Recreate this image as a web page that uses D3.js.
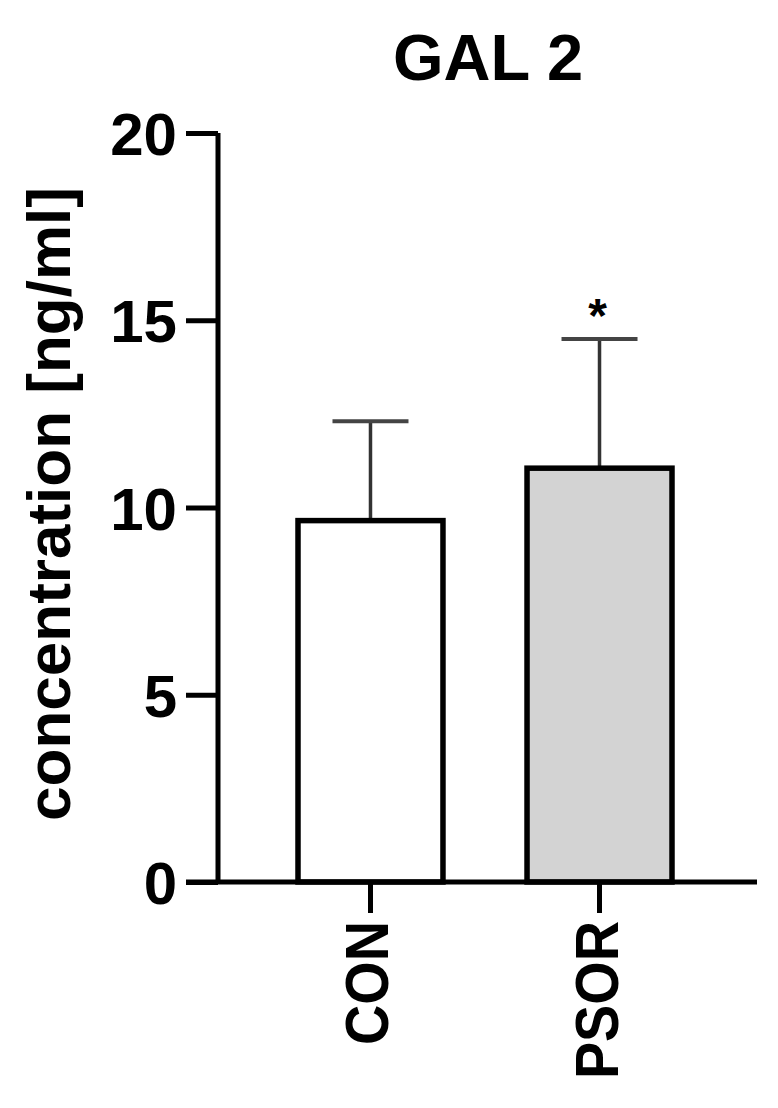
<!DOCTYPE html>
<html>
<head>
<meta charset="utf-8">
<script src="https://cdn.jsdelivr.net/npm/d3@7"></script>
<style>
  body { margin: 0; background: #fff; }
  text { font-family: 'Liberation Sans', Arial, sans-serif; font-weight: bold; fill: #000; }
</style>
</head>
<body>
<svg id="chart"></svg>
<script>
var groups = ['CON', 'PSOR'];
var means = [9.65, 11.05];
var sds = [2.65, 3.45];
var barFills = ['#ffffff', '#d3d3d3'];
var yTicks = [0, 5, 10, 15, 20];
var marks = ['', '*'];

var width = 778,
  height = 1108;

var svg = d3.select('#chart')
  .attr('width', width)
  .attr('height', height);

var y = d3.scaleLinear()
  .domain([0, 20])
  .range([882, 133]);

var x = d3.scaleBand()
  .domain(groups)
  .range([298, 672])
  .paddingInner(0.367)
  .paddingOuter(0);

var axisX = 218;

var data = groups.map(function(g, i) {
  return { name: g, mean: means[i], sd: sds[i], fill: barFills[i], mark: marks[i] };
});

// title
svg.append('text')
  .attr('x', 488)
  .attr('y', 80)
  .attr('text-anchor', 'middle')
  .style('font-size', '65px')
  .text('GAL 2');

// y label
svg.append('text')
  .attr('transform', 'translate(70,504) rotate(-90)')
  .attr('text-anchor', 'middle')
  .style('font-size', '62px')
  .text('concentration [ng/ml]');

// error bars (behind bars)
var err = svg.append('g');
err.selectAll('line.stem')
  .data(data)
  .enter().append('line')
  .attr('class', 'stem')
  .attr('x1', function(d) { return x(d.name) + x.bandwidth() / 2; })
  .attr('x2', function(d) { return x(d.name) + x.bandwidth() / 2; })
  .attr('y1', function(d) { return y(d.mean); })
  .attr('y2', function(d) { return y(d.mean + d.sd); })
  .attr('stroke', '#333')
  .attr('stroke-width', 3.5);

err.selectAll('line.cap')
  .data(data)
  .enter().append('line')
  .attr('class', 'cap')
  .attr('x1', function(d) { return x(d.name) + x.bandwidth() / 2 - 38; })
  .attr('x2', function(d) { return x(d.name) + x.bandwidth() / 2 + 38; })
  .attr('y1', function(d) { return y(d.mean + d.sd); })
  .attr('y2', function(d) { return y(d.mean + d.sd); })
  .attr('stroke', '#444')
  .attr('stroke-width', 4);

// bars
svg.append('g')
  .selectAll('rect')
  .data(data)
  .enter().append('rect')
  .attr('x', function(d) { return x(d.name); })
  .attr('width', x.bandwidth())
  .attr('y', function(d) { return y(d.mean); })
  .attr('height', function(d) { return y(0) - y(d.mean); })
  .attr('fill', function(d) { return d.fill; })
  .attr('stroke', '#000')
  .attr('stroke-width', 5.5);

// significance marks
svg.append('g')
  .selectAll('text')
  .data(data)
  .enter().append('text')
  .attr('x', function(d) { return x(d.name) + x.bandwidth() / 2 - 2; })
  .attr('y', function(d) { return y(d.mean + d.sd) - 7; })
  .attr('text-anchor', 'middle')
  .style('font-size', '48px')
  .text(function(d) { return d.mark; });

// y axis
var gy = svg.append('g')
  .attr('transform', 'translate(' + axisX + ',0)')
  .call(d3.axisLeft(y)
    .tickValues(yTicks)
    .tickSize(32)
    .tickPadding(9)
    .tickFormat(d3.format('d')));

gy.select('.domain')
  .attr('d', 'M0,' + y(20) + 'V' + y(0))
  .attr('stroke', '#000')
  .attr('stroke-width', 5);

gy.selectAll('.tick line')
  .attr('stroke', '#000')
  .attr('stroke-width', 5);

gy.selectAll('.tick text')
  .attr('dy', '0.36em')
  .style('font-size', '60px')
  .style('font-family', "'Liberation Sans', Arial, sans-serif")
  .style('font-weight', 'bold');

// x axis
var gx = svg.append('g')
  .attr('transform', 'translate(0,' + y(0) + ')')
  .call(d3.axisBottom(x)
    .tickSize(31)
    .tickFormat(''));

gx.select('.domain')
  .attr('d', 'M' + (axisX - 32) + ',0H757')
  .attr('stroke', '#000')
  .attr('stroke-width', 5);

gx.selectAll('.tick line')
  .attr('stroke', '#000')
  .attr('stroke-width', 5);

gx.selectAll('.tick').append('text')
  .attr('transform', 'translate(18,39) rotate(-90) scale(0.9,1)')
  .attr('text-anchor', 'end')
  .style('font-size', '62px')
  .style('font-family', "'Liberation Sans', Arial, sans-serif")
  .style('font-weight', 'bold')
  .attr('fill', '#000')
  .text(function(d) { return d; });
</script>
</body>
</html>
